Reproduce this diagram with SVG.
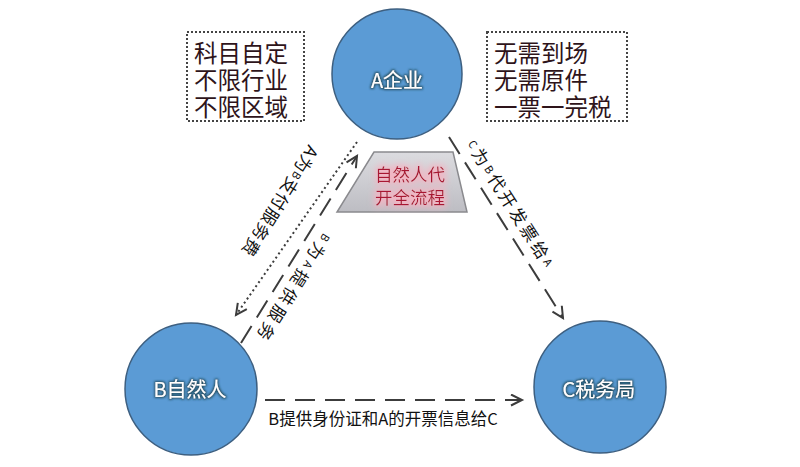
<svg xmlns="http://www.w3.org/2000/svg" width="800" height="467" viewBox="0 0 800 467">
  <defs>
    <style>
      .node circle { fill: #5b9bd5; stroke: #3d5f80; stroke-width: 1.5; }
      .ntext { font-family: "Noto Sans CJK SC", "Noto Sans", sans-serif; font-size: 20px; fill: #ffffff; text-anchor: middle; dominant-baseline: central; filter: url(#glow); }
      .box rect { fill: #ffffff; stroke: #444444; stroke-width: 2; stroke-dasharray: 2 2; }
      .btext { font-family: "Noto Sans CJK SC", sans-serif; font-size: 23.5px; fill: #2e141a; }
      .conn line { fill: none; stroke: #3c3c3c; stroke-width: 2; }
      .dash { stroke-dasharray: 20 10; }
      .dot { stroke-dasharray: 2 3; stroke-width: 2.5; }
      .ltext { font-family: "Noto Sans CJK SC", sans-serif; font-size: 17px; fill: #111111; text-anchor: middle; dominant-baseline: central; }
      .sm { font-size: 11px; }
      .ttext { font-family: "Noto Sans CJK SC", sans-serif; font-size: 17.5px; fill: #a81833; text-anchor: middle; filter: url(#pinkglow); }
    </style>
    <marker id="arr" markerUnits="userSpaceOnUse" markerWidth="16" markerHeight="16" refX="12" refY="6.5" orient="auto">
      <path d="M1,1 L12,6.5 L1,12" fill="none" stroke="#3c3c3c" stroke-width="2"/>
    </marker>
    <filter id="glow" x="-20%" y="-40%" width="140%" height="180%">
      <feMorphology in="SourceAlpha" operator="dilate" radius="1" result="d"/>
      <feGaussianBlur in="d" stdDeviation="1.2" result="b"/>
      <feFlood flood-color="#1e4a5a" flood-opacity="0.9"/>
      <feComposite in2="b" operator="in" result="s"/>
      <feMerge><feMergeNode in="s"/><feMergeNode in="SourceGraphic"/></feMerge>
    </filter>
    <filter id="pinkglow" x="-20%" y="-40%" width="140%" height="180%">
      <feMorphology in="SourceAlpha" operator="dilate" radius="2" result="d"/>
      <feGaussianBlur in="d" stdDeviation="3" result="b"/>
      <feFlood flood-color="#f6b3c2" flood-opacity="0.9"/>
      <feComposite in2="b" operator="in" result="s"/>
      <feMerge><feMergeNode in="s"/><feMergeNode in="SourceGraphic"/></feMerge>
    </filter>
    <linearGradient id="trap" x1="0" y1="0" x2="0" y2="1">
      <stop offset="0" stop-color="#dcdce0"/>
      <stop offset="1" stop-color="#bdbdc3"/>
    </linearGradient>
  </defs>
  <rect width="800" height="467" fill="#ffffff"/>

  <g id="connectors" class="conn">
    <line class="dot" x1="357" y1="142" x2="236" y2="315" marker-end="url(#arr)"/>
    <line class="dash" x1="241" y1="343" x2="357" y2="156" marker-end="url(#arr)"/>
    <line class="dash" x1="449" y1="137" x2="563" y2="318" marker-end="url(#arr)"/>
    <line class="dash" x1="265" y1="400" x2="522" y2="400" marker-end="url(#arr)"/>
    <text class="ltext" transform="translate(281,202) rotate(122)" style="letter-spacing:1px">A为<tspan class="sm">B</tspan>支付服务费</text>
    <text class="ltext" transform="translate(294,289) rotate(122)" style="letter-spacing:4px"><tspan class="sm">B</tspan>为<tspan class="sm">A</tspan>提供服务</text>
    <text class="ltext" transform="translate(512,204) rotate(57.5)" style="letter-spacing:3px"><tspan class="sm">C</tspan>为<tspan class="sm">B</tspan>代开发票给<tspan class="sm">A</tspan></text>
    <text class="ltext" x="383" y="418" style="font-size:16.5px">B提供身份证和A的开票信息给C</text>
  </g>

  <g id="box-left" class="box">
    <rect x="187" y="32" width="117" height="89"/>
    <text class="btext"><tspan x="194" y="62">科目自定</tspan><tspan x="194" y="89">不限行业</tspan><tspan x="194" y="116">不限区域</tspan></text>
  </g>

  <g id="box-right" class="box">
    <rect x="487" y="32" width="140" height="89"/>
    <text class="btext"><tspan x="494" y="62">无需到场</tspan><tspan x="494" y="89">无需原件</tspan><tspan x="494" y="116">一票一完税</tspan></text>
  </g>

  <g id="trapezoid">
    <polygon points="374,152 453,152 467,212 337,212" fill="url(#trap)" stroke="#8a8a8e" stroke-width="1.5"/>
    <text class="ttext" x="410" y="181">自然人代</text>
    <text class="ttext" x="410" y="204">开全流程</text>
  </g>

  <g id="node-a" class="node">
    <circle cx="397" cy="74" r="65"/>
    <text class="ntext" x="397" y="79">A企业</text>
  </g>
  <g id="node-b" class="node">
    <circle cx="191" cy="389" r="66"/>
    <text class="ntext" x="190" y="388">B自然人</text>
  </g>
  <g id="node-c" class="node">
    <circle cx="600" cy="387" r="66"/>
    <text class="ntext" x="599" y="388">C税务局</text>
  </g>
</svg>
